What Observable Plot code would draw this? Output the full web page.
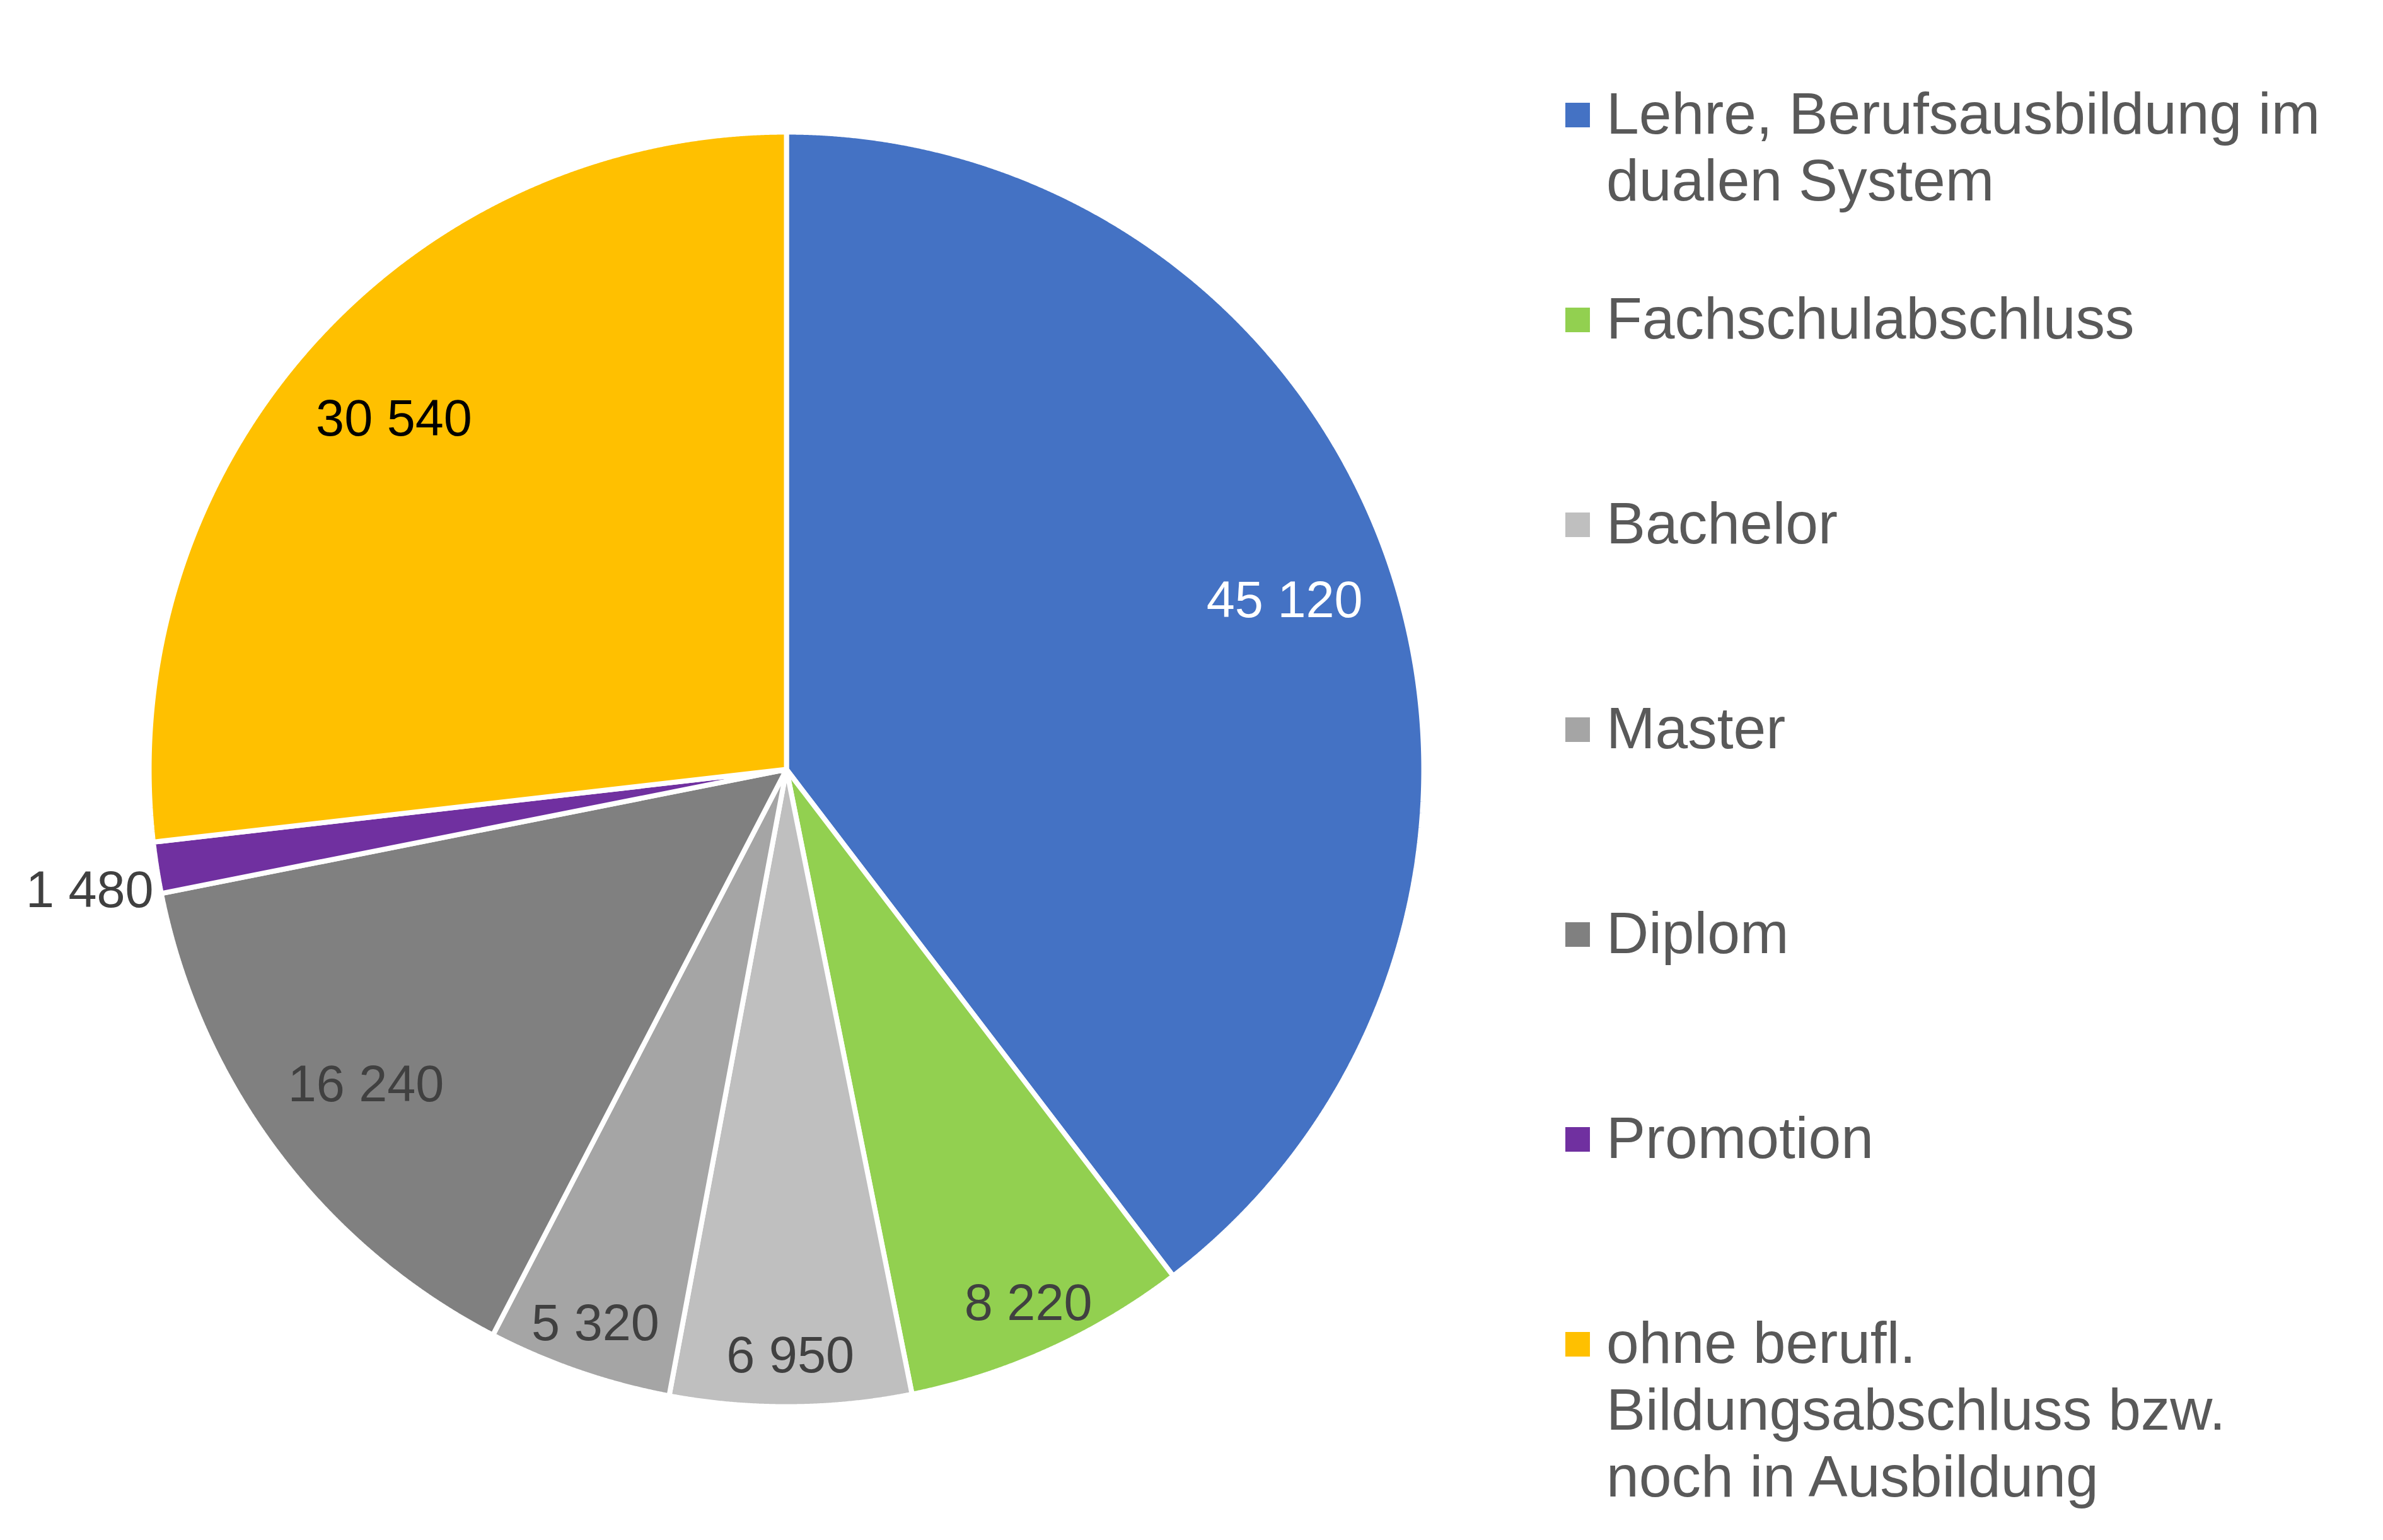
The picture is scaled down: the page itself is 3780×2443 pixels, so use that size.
<!DOCTYPE html>
<html>
<head>
<meta charset="utf-8">
<script src="https://cdn.jsdelivr.net/npm/d3@7"></script>
<script src="https://cdn.jsdelivr.net/npm/@observablehq/plot@0.6"></script>
<style>
  html, body { margin: 0; padding: 0; background: #ffffff; }
  #wrap { position: relative; width: 3780px; height: 2443px; font-family: "Liberation Sans", Arial, sans-serif; }
  #chart { position: absolute; left: 0; top: 0; }
  .item { position: absolute; left: 2483px; }
  .swatch { position: absolute; left: 0; width: 39px; height: 39px; }
  .txt { position: absolute; left: 65px; width: 1190px; font-size: 93px; line-height: 106px; color: #595959; }
</style>
</head>
<body>
<div id="wrap"><div id="chart"></div><div id="legend"></div></div>
<script>
const categories = [
  "Lehre, Berufsausbildung im dualen System",
  "Fachschulabschluss",
  "Bachelor",
  "Master",
  "Diplom",
  "Promotion",
  "ohne berufl. Bildungsabschluss bzw. noch in Ausbildung"
];
const values = [45120, 8220, 6950, 5320, 16240, 1480, 30540];
const colors = ["#4472C4", "#92D050", "#BFBFBF", "#A5A5A5", "#808080", "#7030A0", "#FFC000"];
const labelColors = ["#FFFFFF", "#404040", "#404040", "#404040", "#404040", "#404040", "#000000"];

const fmt = d3.formatLocale({decimal: ",", thousands: " ", grouping: [3], currency: ["", ""]}).format(",");
const total = d3.sum(values);
const arcs = d3.pie().sort(null).value(d => d)(values);

// slice outlines in unit-circle data space (angle 0 at top, clockwise)
const slicePts = [];
arcs.forEach((a, i) => {
  const cat = categories[i];
  slicePts.push({cat, x: 0, y: 0});
  const n = Math.max(2, Math.ceil((a.endAngle - a.startAngle) / 0.002));
  for (let k = 0; k <= n; k++) {
    const t = a.startAngle + (a.endAngle - a.startAngle) * k / n;
    slicePts.push({cat, x: Math.sin(t), y: Math.cos(t)});
  }
  slicePts.push({cat, x: 0, y: 0});
});

const labels = arcs.map((a, i) => {
  const mid = (a.startAngle + a.endAngle) / 2;
  const share = values[i] / total;
  const outside = share < 0.02;
  const r = outside ? 1.005 : (share < 0.1 ? 0.92 : 0.825);
  return {
    x: r * Math.sin(mid), y: r * Math.cos(mid),
    text: fmt(values[i]), color: labelColors[i],
    anchor: outside ? "end" : "middle", dy: outside ? 36 : 0
  };
});

const cx = 1247, cy = 1220, R = 1011;
const plot = Plot.plot({
  width: 2460,
  height: 2443,
  margin: 0,
  x: {domain: [-1, 1], range: [cx - R, cx + R], axis: null},
  y: {domain: [-1, 1], range: [cy + R, cy - R], axis: null},
  color: {domain: categories, range: colors},
  style: {background: "transparent", fontFamily: "'Liberation Sans', Arial, sans-serif"},
  marks: [
    Plot.line(slicePts, {x: "x", y: "y", z: "cat", fill: "cat", stroke: "white", strokeWidth: 8, strokeLinejoin: "miter", curve: "linear"}),
    ...labels.map(l => Plot.text([l], {x: "x", y: "y", text: "text", fill: l.color, fontSize: 81, textAnchor: l.anchor, dy: l.dy}))
  ]
});
document.getElementById("chart").appendChild(plot);

const legend = document.getElementById("legend");
categories.forEach((c, i) => {
  const center = 182 + 325 * i;
  const item = document.createElement("div");
  item.className = "item";
  item.style.top = "0px";
  const sw = document.createElement("div");
  sw.className = "swatch";
  sw.style.background = colors[i];
  sw.style.top = (center - 19.5) + "px";
  const tx = document.createElement("div");
  tx.className = "txt";
  tx.style.top = (center - 55) + "px";
  tx.textContent = c;
  item.appendChild(sw);
  item.appendChild(tx);
  legend.appendChild(item);
});
</script>
</body>
</html>
